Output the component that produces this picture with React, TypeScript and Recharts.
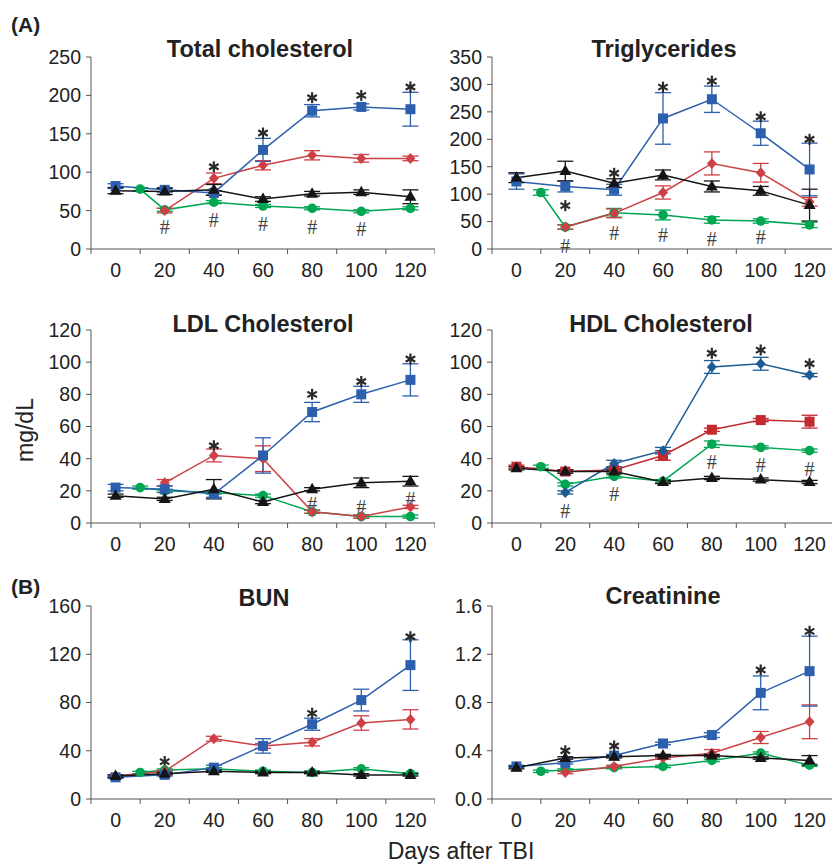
import { ComposedChart, Line, Scatter, XAxis, YAxis, ErrorBar } from "recharts"

// sampling days (green group starts at day 10)
const days = [0, 20, 40, 60, 80, 100, 120]
const greenDays = [10, 20, 40, 60, 80, 100, 120]
const xTicks = [0, 20, 40, 60, 80, 100, 120]

// Total cholesterol
const tcBlue = [82, 77, 73, 129, 180, 185, 182]
const tcBlueErr = [3, 3, 3, 15, 8, 4, 22]
const tcRed = [null, 50, 92, 109, 122, 118, 118]
const tcRedErr = [null, 3, 7, 6, 6, 5, 3]
const tcGreen = [78, 51, 61, 56, 53, 49, 53]
const tcGreenErr = [2, 2, 2, 2, 2, 2, 2]
const tcBlack = [76, 75, 77, 65, 72, 74, 68]
const tcBlackErr = [4, 4, 7, 3, 3, 3, 9]
const tcStars = [[40, 107], [60, 151], [80, 197], [100, 200], [120, 211]]
const tcHash = [[20, 28], [40, 38], [60, 32], [80, 29], [100, 26]]

// Triglycerides
const tgBlue = [123, 114, 108, 238, 273, 211, 145]
const tgBlueErr = [14, 10, 10, 47, 24, 22, 48]
const tgRed = [null, 40, 65, 103, 156, 139, 86]
const tgRedErr = [null, 4, 8, 12, 21, 17, 8]
const tgGreen = [103, 40, 66, 62, 53, 51, 44]
const tgGreenErr = [5, 4, 8, 9, 6, 4, 5]
const tgBlack = [130, 142, 120, 135, 114, 106, 80]
const tgBlackErr = [9, 18, 8, 9, 10, 8, 29]
const tgStars = [[20, 79], [40, 138], [60, 295], [80, 306], [100, 241], [120, 200]]
const tgHash = [[20, 6], [40, 29], [60, 26], [80, 18], [100, 21]]

// LDL cholesterol
const ldlBlue = [22, 21, 18, 42, 69, 80, 89]
const ldlBlueErr = [2, 2, 2, 11, 6, 5, 10]
const ldlRed = [null, 25, 42, 40, 7, 4, 10]
const ldlRedErr = [null, 2, 4, 8, 1, 1, 1]
const ldlGreen = [22, 20, 19, 17, 7, 4, 4]
const ldlGreenErr = [1, 1, 1, 1, 1, 1, 1]
const ldlBlack = [17, 15, 21, 13, 21, 25, 26]
const ldlBlackErr = [1, 1, 6, 1, 1, 3, 3]
const ldlStars = [[40, 48], [80, 80], [100, 88], [120, 102]]
const ldlHash = [[80, 12], [100, 10], [120, 15]]

// HDL cholesterol
const hdlBlue = [null, 19, 37, 45, 97, 99, 92]
const hdlBlueErr = [null, 1, 2, 2, 4, 4, 1]
const hdlRed = [35, 32, 33, 42, 58, 64, 63]
const hdlRedErr = [1, 1, 1, 3, 1, 1, 4]
const hdlGreen = [35, 24, 29, 26, 49, 47, 45]
const hdlGreenErr = [1, 1, 1, 1, 2, 1, 1]
const hdlBlack = [34, 32, 32, 25.5, 28, 27, 25.5]
const hdlBlackErr = [1, 1, 1, 1, 1, 1, 1]
const hdlStars = [[80, 105.5], [100, 107.5], [120, 99]]
const hdlHash = [[20, 7.6], [40, 17.8], [80, 37.7], [100, 36], [120, 33.6]]

// BUN
const bunBlue = [18, 20, 26, 44, 62, 82, 111]
const bunBlueErr = [1, 1, 2, 6, 5, 9, 21]
const bunRed = [19, 23, 50, 44, 47, 63, 66]
const bunRedErr = [1, 1, 2, 2, 3, 6, 8]
const bunGreen = [22, 24, 25, 23, 22, 25, 21]
const bunGreenErr = [1, 1, 1, 1, 1, 1, 1]
const bunBlack = [19, 21, 23, 22, 22, 20, 20]
const bunBlackErr = [1, 1, 1, 1, 1, 1, 1]
const bunStars = [[20, 31], [80, 71], [120, 134.5]]

// Creatinine
const crBlue = [0.27, 0.3, 0.36, 0.46, 0.53, 0.88, 1.06]
const crBlueErr = [0.01, 0.01, 0.01, 0.01, 0.02, 0.14, 0.29]
const crRed = [null, 0.22, 0.27, 0.34, 0.38, 0.51, 0.64]
const crRedErr = [null, 0.01, 0.01, 0.01, 0.03, 0.05, 0.14]
const crGreen = [0.23, 0.24, 0.26, 0.27, 0.32, 0.38, 0.28]
const crGreenErr = [0.01, 0.01, 0.01, 0.01, 0.01, 0.01, 0.01]
const crBlack = [0.26, 0.34, 0.35, 0.36, 0.36, 0.34, 0.32]
const crBlackErr = [0.01, 0.01, 0.01, 0.01, 0.01, 0.01, 0.04]
const crStars = [[20, 0.4], [40, 0.44], [100, 1.07], [120, 1.39]]

const BLUE = "#2c5fae"
const RED = "#cc4046"
const GREEN = "#00a651"
const BLACK = "#151515"
const DBLUE = "#1d5b94"
const DRED = "#c22a30"
const FONT = "'Liberation Sans', Arial, sans-serif"

type Marker = "square" | "diamond" | "circle" | "triangle"

function pts(xs: number[], vals: (number | null)[], errs: (number | null)[]) {
  return xs
    .map((x, i) => ({ x, y: vals[i], e: errs[i] }))
    .filter((p) => p.y != null)
}

function dotFor(kind: Marker, color: string) {
  return (p: any) => {
    const { cx, cy, index } = p
    if (cx == null || cy == null) return <g key={index} />
    if (kind === "square")
      return <rect key={index} x={cx - 5} y={cy - 5} width={10} height={10} fill={color} />
    if (kind === "diamond")
      return (
        <polygon key={index} points={`${cx},${cy - 5.5} ${cx + 5},${cy} ${cx},${cy + 5.5} ${cx - 5},${cy}`} fill={color} />
      )
    if (kind === "circle") return <circle key={index} cx={cx} cy={cy} r={4.8} fill={color} />
    return (
      <polygon key={index} points={`${cx},${cy - 6.5} ${cx + 6},${cy + 4} ${cx - 6},${cy + 4}`} fill={color} />
    )
  }
}

// six-armed asterisk drawn as three strokes through the point
const starShape = (p: any) => {
  const { cx, cy } = p
  const r = 5.5
  const dx = r * Math.cos(Math.PI / 6)
  const dy = r * Math.sin(Math.PI / 6)
  return (
    <g stroke="#2a2a2a" strokeWidth={2.2} strokeLinecap="butt">
      <line x1={cx} y1={cy - r} x2={cx} y2={cy + r} />
      <line x1={cx - dx} y1={cy - dy} x2={cx + dx} y2={cy + dy} />
      <line x1={cx - dx} y1={cy + dy} x2={cx + dx} y2={cy - dy} />
    </g>
  )
}
const hashShape = (p: any) => (
  <text x={p.cx} y={p.cy + 7} textAnchor="middle" fontSize={20} fontFamily="'Liberation Serif', serif" fill="#444">
    #
  </text>
)

type SeriesDef = { data: any[]; color: string; marker: Marker }

function Panel(props: {
  left: number
  top: number
  right: number
  bottom: number
  yMax: number
  yTicks: number[]
  fmt?: (v: number) => string
  series: SeriesDef[]
  stars: number[][]
  hashes?: number[][]
}) {
  const { left, top, right, bottom, yMax, yTicks, fmt, series, stars, hashes } = props
  const yW = 60
  const padTop = 12
  const xH = 36
  const chartLeft = left - yW
  const chartTop = top - padTop
  const width = right - chartLeft
  const height = bottom + xH - chartTop
  const axisY = bottom - chartTop
  const half = (right - left) / 14

  const xTick = (t: any) => {
    const x = t.x
    return (
      <g key={t.index}>
        <line x1={x - half} x2={x - half} y1={axisY} y2={axisY + 5} stroke="#555" />
        {t.payload.value === 120 && <line x1={x + half} x2={x + half} y1={axisY} y2={axisY + 5} stroke="#555" />}
        <text x={x} y={axisY + 28} textAnchor="middle" fontSize={19.5} fontFamily={FONT} fill="#222">
          {t.payload.value}
        </text>
      </g>
    )
  }

  return (
    <div style={{ position: "absolute", left: chartLeft, top: chartTop }}>
      <ComposedChart width={width} height={height} margin={{ top: padTop, right: 0, bottom: 0, left: 0 }}>
        <XAxis
          type="number"
          dataKey="x"
          domain={[-10, 130]}
          ticks={xTicks}
          tick={xTick}
          tickLine={false}
          stroke="#555"
          height={xH}
          allowDataOverflow
        />
        <YAxis
          type="number"
          domain={[0, yMax]}
          ticks={yTicks}
          width={yW}
          stroke="#555"
          tickSize={5}
          tickMargin={5}
          tickFormatter={fmt}
          tick={{ fill: "#222", fontSize: 19.5, fontFamily: FONT }}
          interval={0}
        />
        {series.map((s, i) => (
          <Line
            key={i}
            data={s.data}
            dataKey="y"
            stroke={s.color}
            strokeWidth={1.5}
            dot={dotFor(s.marker, s.color)}
            activeDot={false}
            isAnimationActive={false}
          >
            <ErrorBar dataKey="e" direction="y" width={8} stroke={s.color} strokeWidth={1.3} />
          </Line>
        ))}
        <Scatter data={stars.map(([x, y]) => ({ x, y }))} dataKey="y" shape={starShape} isAnimationActive={false} />
        {hashes && (
          <Scatter data={hashes.map(([x, y]) => ({ x, y }))} dataKey="y" shape={hashShape} isAnimationActive={false} />
        )}
      </ComposedChart>
    </div>
  )
}

function four(
  b: (number | null)[], be: (number | null)[], r: (number | null)[], re: (number | null)[],
  g: number[], ge: number[], k: number[], ke: number[],
  blue = BLUE, blueM: Marker = "square", red = RED, redM: Marker = "diamond"
): SeriesDef[] {
  return [
    { data: pts(greenDays, g, ge), color: GREEN, marker: "circle" },
    { data: pts(days, r, re), color: red, marker: redM },
    { data: pts(days, b, be), color: blue, marker: blueM },
    { data: pts(days, k, ke), color: BLACK, marker: "triangle" },
  ]
}

export default function App() {
  const L1 = 91, R1 = 435, L2 = 492, R2 = 834
  return (
    <div style={{ position: "absolute", left: 0, top: 0, width: 832, height: 866, overflow: "hidden", background: "#fff" }}>
      <Panel left={L1} right={R1} top={57} bottom={249} yMax={250} yTicks={[0, 50, 100, 150, 200, 250]}
        series={four(tcBlue, tcBlueErr, tcRed, tcRedErr, tcGreen, tcGreenErr, tcBlack, tcBlackErr)}
        stars={tcStars} hashes={tcHash} />
      <Panel left={L2} right={R2} top={57} bottom={249} yMax={350} yTicks={[0, 50, 100, 150, 200, 250, 300, 350]}
        series={four(tgBlue, tgBlueErr, tgRed, tgRedErr, tgGreen, tgGreenErr, tgBlack, tgBlackErr)}
        stars={tgStars} hashes={tgHash} />
      <Panel left={L1} right={R1} top={330} bottom={523} yMax={120} yTicks={[0, 20, 40, 60, 80, 100, 120]}
        series={four(ldlBlue, ldlBlueErr, ldlRed, ldlRedErr, ldlGreen, ldlGreenErr, ldlBlack, ldlBlackErr)}
        stars={ldlStars} hashes={ldlHash} />
      <Panel left={L2} right={R2} top={330} bottom={523} yMax={120} yTicks={[0, 20, 40, 60, 80, 100, 120]}
        series={four(hdlBlue, hdlBlueErr, hdlRed, hdlRedErr, hdlGreen, hdlGreenErr, hdlBlack, hdlBlackErr, DBLUE, "diamond", DRED, "square")}
        stars={hdlStars} hashes={hdlHash} />
      <Panel left={L1} right={R1} top={606} bottom={799} yMax={160} yTicks={[0, 40, 80, 120, 160]}
        series={four(bunBlue, bunBlueErr, bunRed, bunRedErr, bunGreen, bunGreenErr, bunBlack, bunBlackErr)}
        stars={bunStars} />
      <Panel left={L2} right={R2} top={606} bottom={799} yMax={1.6} yTicks={[0, 0.4, 0.8, 1.2, 1.6]}
        fmt={(v) => v.toFixed(1)}
        series={four(crBlue, crBlueErr, crRed, crRedErr, crGreen, crGreenErr, crBlack, crBlackErr)}
        stars={crStars} />
      <svg width={832} height={866} style={{ position: "absolute", left: 0, top: 0, pointerEvents: "none" }}>
        <g fontFamily={FONT} fill="#222">
          <text x={11} y={32} fontSize={21} fontWeight="bold">(A)</text>
          <text x={11} y={594} fontSize={21} fontWeight="bold">(B)</text>
          <g fontSize={23.5} fontWeight="bold" textAnchor="middle">
            <text x={260} y={57}>Total cholesterol</text>
            <text x={664} y={57}>Triglycerides</text>
            <text x={263} y={332}>LDL Cholesterol</text>
            <text x={661} y={332}>HDL Cholesterol</text>
            <text x={264} y={606}>BUN</text>
            <text x={663} y={604}>Creatinine</text>
          </g>
          <text x={33} y={430} fontSize={23} textAnchor="middle" transform="rotate(-90 33 430)">mg/dL</text>
          <text x={461} y={859} fontSize={23} textAnchor="middle">Days after TBI</text>
        </g>
      </svg>
    </div>
  )
}
